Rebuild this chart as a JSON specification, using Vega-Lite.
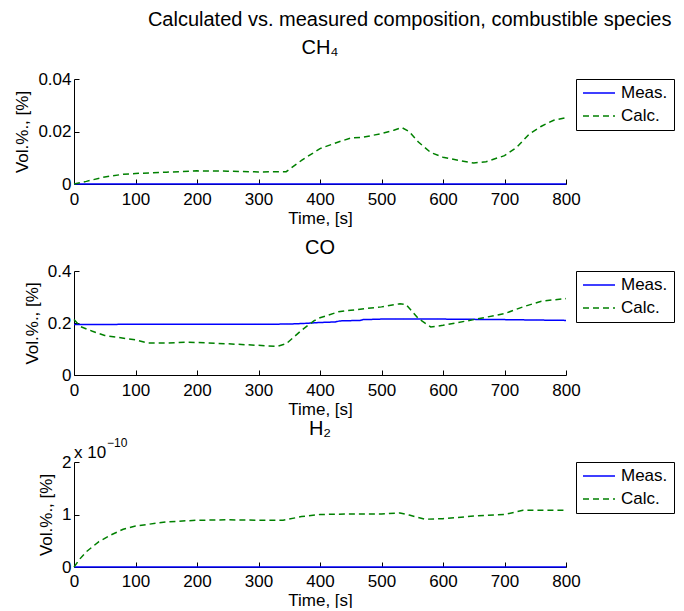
{
  "$schema": "https://vega.github.io/schema/vega-lite/v6.json",
  "background": "white",
  "padding": {"left": 13, "top": 10, "right": 5, "bottom": 0},
  "spacing": 12,
  "config": {
    "font": "Liberation Sans",
    "view": {"stroke": null},
    "axis": {
      "grid": false,
      "domainColor": "black",
      "tickColor": "black",
      "labelColor": "black",
      "titleColor": "black",
      "labelFontSize": 17,
      "titleFontSize": 17,
      "titleFontWeight": "normal",
      "tickSize": -5,
      "labelFlush": false,
      "labelOverlap": false
    },
    "axisX": {"titlePadding": 3, "labelPadding": 12},
    "axisY": {"titlePadding": 6, "labelPadding": 8},
    "legend": {
      "orient": "right",
      "offset": 7,
      "strokeColor": "black",
      "fillColor": "white",
      "padding": 6,
      "labelFontSize": 17,
      "labelColor": "black",
      "symbolType": "stroke",
      "symbolSize": 1024,
      "symbolStrokeWidth": 1.5,
      "clipHeight": 16,
      "rowPadding": 6,
      "labelOffset": 5
    },
    "title": {"fontSize": 20, "fontWeight": "normal", "color": "black", "frame": "group", "offset": 12}
  },
  "title": {"text": "Calculated vs. measured composition, combustible species", "anchor": "end", "fontSize": 20, "fontWeight": "normal", "frame": "bounds", "offset": 8, "dx": -3},
  "datasets": {
    "lines": [
      {"panel": "CH4", "series": "Meas.", "t": 0, "v": 0},
      {"panel": "CH4", "series": "Meas.", "t": 800, "v": 0},
      {"panel": "CH4", "series": "Calc.", "t": 0, "v": 0},
      {"panel": "CH4", "series": "Calc.", "t": 20, "v": 0.001},
      {"panel": "CH4", "series": "Calc.", "t": 50, "v": 0.0027},
      {"panel": "CH4", "series": "Calc.", "t": 80, "v": 0.0037},
      {"panel": "CH4", "series": "Calc.", "t": 100, "v": 0.004},
      {"panel": "CH4", "series": "Calc.", "t": 150, "v": 0.0045},
      {"panel": "CH4", "series": "Calc.", "t": 200, "v": 0.005},
      {"panel": "CH4", "series": "Calc.", "t": 250, "v": 0.0049},
      {"panel": "CH4", "series": "Calc.", "t": 300, "v": 0.0046},
      {"panel": "CH4", "series": "Calc.", "t": 345, "v": 0.0047},
      {"panel": "CH4", "series": "Calc.", "t": 370, "v": 0.009},
      {"panel": "CH4", "series": "Calc.", "t": 400, "v": 0.0135},
      {"panel": "CH4", "series": "Calc.", "t": 430, "v": 0.016},
      {"panel": "CH4", "series": "Calc.", "t": 450, "v": 0.0175},
      {"panel": "CH4", "series": "Calc.", "t": 470, "v": 0.0178},
      {"panel": "CH4", "series": "Calc.", "t": 500, "v": 0.0192},
      {"panel": "CH4", "series": "Calc.", "t": 520, "v": 0.0205},
      {"panel": "CH4", "series": "Calc.", "t": 533, "v": 0.0215},
      {"panel": "CH4", "series": "Calc.", "t": 545, "v": 0.02},
      {"panel": "CH4", "series": "Calc.", "t": 560, "v": 0.016},
      {"panel": "CH4", "series": "Calc.", "t": 580, "v": 0.012},
      {"panel": "CH4", "series": "Calc.", "t": 600, "v": 0.0102},
      {"panel": "CH4", "series": "Calc.", "t": 630, "v": 0.0088},
      {"panel": "CH4", "series": "Calc.", "t": 650, "v": 0.008},
      {"panel": "CH4", "series": "Calc.", "t": 670, "v": 0.0085},
      {"panel": "CH4", "series": "Calc.", "t": 700, "v": 0.0108},
      {"panel": "CH4", "series": "Calc.", "t": 720, "v": 0.014},
      {"panel": "CH4", "series": "Calc.", "t": 740, "v": 0.019},
      {"panel": "CH4", "series": "Calc.", "t": 760, "v": 0.022},
      {"panel": "CH4", "series": "Calc.", "t": 780, "v": 0.0243},
      {"panel": "CH4", "series": "Calc.", "t": 800, "v": 0.0253},

      {"panel": "CO", "series": "Meas.", "t": 0, "v": 0.194},
      {"panel": "CO", "series": "Meas.", "t": 100, "v": 0.195},
      {"panel": "CO", "series": "Meas.", "t": 200, "v": 0.195},
      {"panel": "CO", "series": "Meas.", "t": 300, "v": 0.195},
      {"panel": "CO", "series": "Meas.", "t": 350, "v": 0.196},
      {"panel": "CO", "series": "Meas.", "t": 380, "v": 0.199},
      {"panel": "CO", "series": "Meas.", "t": 400, "v": 0.202},
      {"panel": "CO", "series": "Meas.", "t": 425, "v": 0.204},
      {"panel": "CO", "series": "Meas.", "t": 432, "v": 0.208},
      {"panel": "CO", "series": "Meas.", "t": 465, "v": 0.21},
      {"panel": "CO", "series": "Meas.", "t": 470, "v": 0.213},
      {"panel": "CO", "series": "Meas.", "t": 500, "v": 0.215},
      {"panel": "CO", "series": "Meas.", "t": 600, "v": 0.215},
      {"panel": "CO", "series": "Meas.", "t": 700, "v": 0.213},
      {"panel": "CO", "series": "Meas.", "t": 800, "v": 0.21},
      {"panel": "CO", "series": "Calc.", "t": 0, "v": 0.213},
      {"panel": "CO", "series": "Calc.", "t": 10, "v": 0.187},
      {"panel": "CO", "series": "Calc.", "t": 30, "v": 0.168},
      {"panel": "CO", "series": "Calc.", "t": 50, "v": 0.152},
      {"panel": "CO", "series": "Calc.", "t": 100, "v": 0.135},
      {"panel": "CO", "series": "Calc.", "t": 120, "v": 0.123},
      {"panel": "CO", "series": "Calc.", "t": 150, "v": 0.123},
      {"panel": "CO", "series": "Calc.", "t": 180, "v": 0.126},
      {"panel": "CO", "series": "Calc.", "t": 200, "v": 0.125},
      {"panel": "CO", "series": "Calc.", "t": 250, "v": 0.12},
      {"panel": "CO", "series": "Calc.", "t": 300, "v": 0.114},
      {"panel": "CO", "series": "Calc.", "t": 330, "v": 0.11},
      {"panel": "CO", "series": "Calc.", "t": 345, "v": 0.12},
      {"panel": "CO", "series": "Calc.", "t": 370, "v": 0.172},
      {"panel": "CO", "series": "Calc.", "t": 390, "v": 0.208},
      {"panel": "CO", "series": "Calc.", "t": 400, "v": 0.22},
      {"panel": "CO", "series": "Calc.", "t": 430, "v": 0.243},
      {"panel": "CO", "series": "Calc.", "t": 450, "v": 0.249},
      {"panel": "CO", "series": "Calc.", "t": 500, "v": 0.262},
      {"panel": "CO", "series": "Calc.", "t": 530, "v": 0.274},
      {"panel": "CO", "series": "Calc.", "t": 540, "v": 0.271},
      {"panel": "CO", "series": "Calc.", "t": 560, "v": 0.217},
      {"panel": "CO", "series": "Calc.", "t": 580, "v": 0.185},
      {"panel": "CO", "series": "Calc.", "t": 600, "v": 0.191},
      {"panel": "CO", "series": "Calc.", "t": 650, "v": 0.213},
      {"panel": "CO", "series": "Calc.", "t": 700, "v": 0.236},
      {"panel": "CO", "series": "Calc.", "t": 730, "v": 0.262},
      {"panel": "CO", "series": "Calc.", "t": 760, "v": 0.284},
      {"panel": "CO", "series": "Calc.", "t": 800, "v": 0.294},

      {"panel": "H2", "series": "Meas.", "t": 0, "v": 0},
      {"panel": "H2", "series": "Meas.", "t": 800, "v": 0},
      {"panel": "H2", "series": "Calc.", "t": 0, "v": 0},
      {"panel": "H2", "series": "Calc.", "t": 10, "v": 0.16e-10},
      {"panel": "H2", "series": "Calc.", "t": 20, "v": 0.29e-10},
      {"panel": "H2", "series": "Calc.", "t": 40, "v": 0.48e-10},
      {"panel": "H2", "series": "Calc.", "t": 60, "v": 0.61e-10},
      {"panel": "H2", "series": "Calc.", "t": 80, "v": 0.72e-10},
      {"panel": "H2", "series": "Calc.", "t": 100, "v": 0.78e-10},
      {"panel": "H2", "series": "Calc.", "t": 150, "v": 0.86e-10},
      {"panel": "H2", "series": "Calc.", "t": 200, "v": 0.89e-10},
      {"panel": "H2", "series": "Calc.", "t": 250, "v": 0.9e-10},
      {"panel": "H2", "series": "Calc.", "t": 300, "v": 0.89e-10},
      {"panel": "H2", "series": "Calc.", "t": 340, "v": 0.89e-10},
      {"panel": "H2", "series": "Calc.", "t": 370, "v": 0.96e-10},
      {"panel": "H2", "series": "Calc.", "t": 400, "v": 1.0e-10},
      {"panel": "H2", "series": "Calc.", "t": 450, "v": 1.01e-10},
      {"panel": "H2", "series": "Calc.", "t": 500, "v": 1.01e-10},
      {"panel": "H2", "series": "Calc.", "t": 530, "v": 1.03e-10},
      {"panel": "H2", "series": "Calc.", "t": 545, "v": 0.99e-10},
      {"panel": "H2", "series": "Calc.", "t": 570, "v": 0.91e-10},
      {"panel": "H2", "series": "Calc.", "t": 600, "v": 0.92e-10},
      {"panel": "H2", "series": "Calc.", "t": 650, "v": 0.97e-10},
      {"panel": "H2", "series": "Calc.", "t": 700, "v": 1.0e-10},
      {"panel": "H2", "series": "Calc.", "t": 730, "v": 1.08e-10},
      {"panel": "H2", "series": "Calc.", "t": 800, "v": 1.08e-10}
    ],
    "note": [
      {"t": 0, "v": 2e-10, "base": "x 10", "exp": "−10"}
    ]
  },
  "vconcat": [
    {
      "title": {"text": "CH₄", "offset": 12},
      "width": 492,
      "height": 105,
      "data": {"name": "lines"},
      "transform": [{"filter": "datum.panel === 'CH4'"}],
      "mark": {"type": "line", "strokeWidth": 1.5},
      "encoding": {
        "x": {"field": "t", "type": "quantitative", "scale": {"domain": [0, 800]}, "axis": {"title": "Time, [s]", "values": [0, 100, 200, 300, 400, 500, 600, 700, 800]}},
        "y": {"field": "v", "type": "quantitative", "scale": {"domain": [0, 0.04]}, "axis": {"title": "Vol.%., [%]", "values": [0, 0.02, 0.04], "labelExpr": "datum.value === 0 ? '0' : format(datum.value, '.2f')"}},
        "color": {"field": "series", "type": "nominal", "scale": {"domain": ["Meas.", "Calc."], "range": ["#0000ff", "#008000"]}, "legend": {"title": null}},
        "strokeDash": {"field": "series", "type": "nominal", "scale": {"domain": ["Meas.", "Calc."], "range": [[1, 0], [6, 4]]}, "legend": {"title": null}}
      }
    },
    {
      "spacing": 2,
      "vconcat": [
        {
          "title": {"text": "CO", "offset": 4},
          "width": 492,
          "height": 104,
          "data": {"name": "lines"},
          "transform": [{"filter": "datum.panel === 'CO'"}],
          "mark": {"type": "line", "strokeWidth": 1.5},
          "encoding": {
            "x": {"field": "t", "type": "quantitative", "scale": {"domain": [0, 800]}, "axis": {"title": "Time, [s]", "values": [0, 100, 200, 300, 400, 500, 600, 700, 800]}},
            "y": {"field": "v", "type": "quantitative", "scale": {"domain": [0, 0.4]}, "axis": {"title": "Vol.%., [%]", "values": [0, 0.2, 0.4], "labelExpr": "datum.value === 0 ? '0' : format(datum.value, '.1f')"}},
            "color": {"field": "series", "type": "nominal", "scale": {"domain": ["Meas.", "Calc."], "range": ["#0000ff", "#008000"]}, "legend": {"title": null}},
            "strokeDash": {"field": "series", "type": "nominal", "scale": {"domain": ["Meas.", "Calc."], "range": [[1, 0], [6, 4]]}, "legend": {"title": null}}
          }
        },
        {
          "title": {"text": "H₂", "offset": -2},
          "width": 492,
          "height": 105,
          "layer": [
            {
              "data": {"name": "lines"},
              "transform": [{"filter": "datum.panel === 'H2'"}],
              "mark": {"type": "line", "strokeWidth": 1.5},
              "encoding": {
                "x": {"field": "t", "type": "quantitative", "scale": {"domain": [0, 800]}, "axis": {"title": "Time, [s]", "titlePadding": 3, "labelPadding": 11, "values": [0, 100, 200, 300, 400, 500, 600, 700, 800]}},
                "y": {"field": "v", "type": "quantitative", "scale": {"domain": [0, 2e-10]}, "axis": {"title": "Vol.%., [%]", "values": [0, 1e-10, 2e-10], "labelExpr": "format(datum.value * 1e10, 'd')"}},
                "color": {"field": "series", "type": "nominal", "scale": {"domain": ["Meas.", "Calc."], "range": ["#0000ff", "#008000"]}, "legend": {"title": null}},
                "strokeDash": {"field": "series", "type": "nominal", "scale": {"domain": ["Meas.", "Calc."], "range": [[1, 0], [6, 4]]}, "legend": {"title": null}}
              }
            },
            {
              "data": {"name": "note"},
              "mark": {"type": "text", "align": "left", "baseline": "bottom", "fontSize": 17, "dy": 0, "color": "black"},
              "encoding": {
                "x": {"field": "t", "type": "quantitative"},
                "y": {"field": "v", "type": "quantitative"},
                "text": {"field": "base"}
              }
            },
            {
              "data": {"name": "note"},
              "mark": {"type": "text", "align": "left", "baseline": "bottom", "fontSize": 12, "dx": 33, "dy": -12, "color": "black"},
              "encoding": {
                "x": {"field": "t", "type": "quantitative"},
                "y": {"field": "v", "type": "quantitative"},
                "text": {"field": "exp"}
              }
            }
          ]
        }
      ],
      "resolve": {
        "scale": {"color": "independent", "strokeDash": "independent"},
        "legend": {"color": "independent", "strokeDash": "independent"}
      }
    }
  ],
  "resolve": {
    "scale": {"color": "independent", "strokeDash": "independent"},
    "legend": {"color": "independent", "strokeDash": "independent"}
  }
}
